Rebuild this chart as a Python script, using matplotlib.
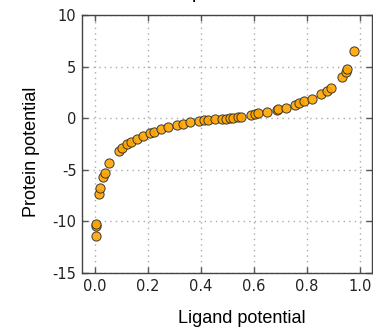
import matplotlib
matplotlib.use("Agg")
import matplotlib.pyplot as plt

ligand = [0.002, 0.003, 0.004, 0.015, 0.017, 0.029, 0.035, 0.052, 0.088, 0.10, 0.12,
          0.135, 0.157, 0.18, 0.205, 0.223, 0.25, 0.274, 0.308, 0.331, 0.358, 0.392,
          0.41, 0.424, 0.453, 0.478, 0.495, 0.509, 0.52, 0.54, 0.55, 0.59, 0.605,
          0.616, 0.648, 0.686, 0.69, 0.72, 0.755, 0.77, 0.79, 0.818, 0.853, 0.874,
          0.889, 0.93, 0.946, 0.952, 0.977]
protein = [-11.46, -10.4, -10.24, -7.33, -6.78, -5.72, -5.27, -4.36, -3.13, -2.92, -2.52,
           -2.29, -2.0, -1.68, -1.42, -1.3, -1.08, -0.87, -0.65, -0.55, -0.39, -0.26,
           -0.2, -0.16, -0.1, -0.06, -0.03, 0.0, 0.05, 0.1, 0.15, 0.33, 0.42,
           0.48, 0.6, 0.8, 0.9, 1.02, 1.28, 1.45, 1.64, 1.88, 2.33, 2.65,
           2.91, 3.97, 4.46, 4.72, 6.54]
xticks = [0.0, 0.2, 0.4, 0.6, 0.8, 1.0]
yticks = [-15, -10, -5, 0, 5, 10]

fig = plt.figure(figsize=(3.73, 3.30), dpi=100)
ax = fig.add_axes([82/373, 57/330, 290/373, 258/330])
ax.scatter(ligand, protein, s=44, c="#FFA500", edgecolors="#2a2a2a",
           linewidths=0.7, alpha=0.9, zorder=3)
ax.set_xlim(-0.05, 1.045)
ax.set_ylim(-15, 10)
ax.set_xticks(xticks)
ax.set_yticks(yticks)
ax.set_xticklabels([f"{v:.1f}" for v in xticks])
ax.set_yticklabels([str(v) for v in yticks])
ax.grid(True, linestyle=(0, (1, 3)), color="#aaaaaa", linewidth=1.0)
ax.tick_params(direction="in", top=True, right=True, length=4, width=1,
               color="#555555", labelsize=10.5, labelcolor="#222222", pad=4)
for sp in ax.spines.values():
    sp.set_color("#444444")
    sp.set_linewidth(1.0)
ax.set_xlabel("Ligand potential", family="Liberation Sans", fontsize=13, va="center")
ax.xaxis.set_label_coords(0.552, -0.178)
ax.set_ylabel("Protein potential", family="Liberation Sans", fontsize=13, va="center")
ax.yaxis.set_label_coords(-0.174, 0.469)
fig.text(76/373, 1.0075, "Transformed potentials", ha="left", va="baseline",
         family="Liberation Sans", fontsize=14)
fig.savefig("out.png", dpi=100)
